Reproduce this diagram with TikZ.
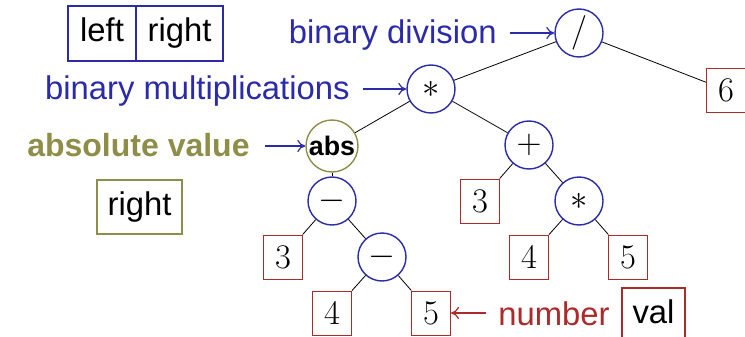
\documentclass[tikz,border=0pt]{standalone}
\usepackage{fontspec}
\setmainfont{Liberation Sans}
\usetikzlibrary{arrows.meta}
\definecolor{opblue}{RGB}{42,42,170}
\definecolor{numred}{RGB}{172,42,42}
\definecolor{absolive}{RGB}{142,142,72}

\begin{document}
\begin{tikzpicture}[x=0.5pt,y=-0.5pt,
  every node/.style={font=\fontsize{16.4}{19.7}\selectfont},
  op/.style={circle,draw=opblue,line width=0.7pt,minimum size=24pt,inner sep=0pt},
  absop/.style={circle,draw=absolive,line width=0.7pt,minimum size=26pt,inner sep=0pt,
    font=\fontsize{13.4}{16}\selectfont\bfseries},
  num/.style={rectangle,draw=numred,line width=0.5pt,minimum width=19.5pt,minimum height=22pt,inner sep=0pt},
  field/.style={rectangle,line width=0.6pt,minimum height=27.5pt,inner sep=0pt,
    text height=12pt,text depth=3.6pt},
  edge/.style={draw=black,line width=0.4pt},
  pointer/.style={-{To[length=4pt,width=6pt]},line width=0.6pt},
  caption/.style={inner sep=0pt,anchor=base east},
]
\useasboundingbox (0,0) rectangle (745,337);

% expression tree
\node[op] (div) at (579,33) {$/$};
\node[op] (mul) at (431,89) {$*$};
\node[num] (six) at (726,90) {$6$};
\node[absop] (abs) at (332,146) {abs};
\node[op] (plus) at (529,145) {$+$};
\node[op] (subA) at (332,201) {$-$};
\node[num] (threeA) at (283,257) {$3$};
\node[op] (subB) at (382,257) {$-$};
\node[num] (fourA) at (332,313) {$4$};
\node[num] (fiveA) at (431,313) {$5$};
\node[num] (threeB) at (480,201) {$3$};
\node[op] (mulB) at (579,201) {$*$};
\node[num] (fourB) at (529,257) {$4$};
\node[num] (fiveB) at (628,257) {$5$};

\path[edge] (div) -- (mul);
\path[edge] (div) -- (six);
\path[edge] (mul) -- (abs);
\path[edge] (mul) -- (plus);
\path[edge] (abs) -- (subA);
\path[edge] (subA) -- (threeA);
\path[edge] (subA) -- (subB);
\path[edge] (subB) -- (fourA);
\path[edge] (subB) -- (fiveA);
\path[edge] (plus) -- (threeB);
\path[edge] (plus) -- (mulB);
\path[edge] (mulB) -- (fourB);
\path[edge] (mulB) -- (fiveB);

% node layouts
\node[field,draw=opblue,minimum width=34pt] (lf) at (102,33.5) {left};
\node[field,draw=opblue,minimum width=43.5pt] (rf) at (179.5,33.5) {right};
\node[field,draw=absolive,minimum width=42.5pt,minimum height=27pt] (absf) at (139.5,207) {right};
\node[field,draw=numred,minimum width=31.5pt,minimum height=27pt] (valf) at (653.5,315) {val};

% captions with pointers
\node[caption,text=opblue] (capdiv) at (497,43) {binary division};
\node[caption,text=opblue] (capmul) at (350,99) {binary multiplications};
\node[caption,text=absolive,font=\fontsize{16}{19.2}\selectfont\bfseries] (capabs) at (250,156) {absolute value};
\node[inner sep=0pt,anchor=base west,text=numred] (capnum) at (498,325) {number};

\coordinate (pdiv) at (510,33);
\coordinate (pmul) at (363,89);
\coordinate (pabs) at (265,146);
\coordinate (pnum) at (486,313);
\draw[pointer,opblue] (pdiv) -- (div);
\draw[pointer,opblue] (pmul) -- (mul);
\draw[pointer,opblue] (pabs) -- (abs);
\draw[pointer,numred] (pnum) -- (fiveA);
\end{tikzpicture}
\end{document}
